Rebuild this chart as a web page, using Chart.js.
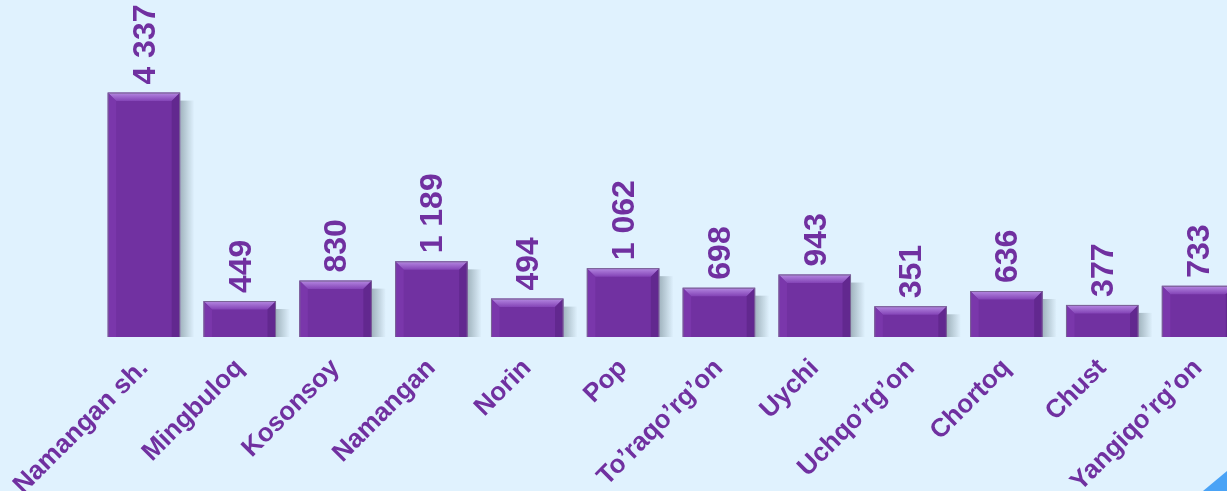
<!DOCTYPE html>
<html>
<head>
<meta charset="utf-8">
<script src="https://cdn.jsdelivr.net/npm/chart.js@4.4.1/dist/chart.umd.min.js"></script>
<style>
  html, body { margin: 0; padding: 0; background: #e0f2fe; overflow: hidden; }
  #wrap { position: relative; width: 1227px; height: 491px; overflow: hidden; }
  #corner { position: absolute; right: 0; bottom: 0; width: 24px; height: 20px;
            background: #4aa3f6; clip-path: polygon(100% 0, 100% 100%, 0 100%); }
</style>
</head>
<body>
<div id="wrap">
  <canvas id="bars" width="1246" height="491"></canvas>
  <div id="corner"></div>
</div>
<script>
// districts and values
const categories = ['Namangan sh.', 'Mingbuloq', 'Kosonsoy', 'Namangan', 'Norin', 'Pop',
  'To’raqo’rg’on', 'Uychi', 'Uchqo’rg’on', 'Chortoq', 'Chust', 'Yangiqo’rg’on'];
const values = [4337, 449, 830, 1189, 494, 1062, 698, 943, 351, 636, 377, 733];

// value axis range (hidden)
const yMin = -222;
const yMax = 5878;

const PURPLE = '#7030a0';
const FONT = "'Liberation Sans', Arial, sans-serif";

function fmt(v) {
  return String(v).replace(/\B(?=(\d{3})+(?!\d))/g, ' ');
}

// soft shadow right of each bar, then bevel edges and value labels on top
const bevelPlugin = {
  id: 'bevel',
  beforeDatasetsDraw(chart) {
    const { ctx, chartArea } = chart;
    ctx.save();
    ctx.beginPath();
    ctx.rect(chartArea.left, chartArea.top, chartArea.width + 30, chartArea.height);
    ctx.clip();
    chart.getDatasetMeta(0).data.forEach(bar => {
      const p = bar.getProps(['x', 'y', 'base', 'width'], true);
      const r = p.x + p.width / 2;
      const g = ctx.createLinearGradient(r, 0, r + 14, 0);
      g.addColorStop(0, 'rgba(110,130,140,0.55)');
      g.addColorStop(1, 'rgba(110,130,140,0)');
      ctx.fillStyle = g;
      ctx.fillRect(r, p.y + 8, 14, p.base - p.y - 8);
    });
    ctx.restore();
  },
  afterDatasetsDraw(chart) {
    const { ctx, chartArea } = chart;
    const b = 8;
    ctx.save();
    ctx.beginPath();
    ctx.rect(chartArea.left, 0, chartArea.width, chartArea.bottom);
    ctx.clip();
    chart.getDatasetMeta(0).data.forEach((bar, i) => {
      const p = bar.getProps(['x', 'y', 'base', 'width'], true);
      const L = p.x - p.width / 2 + 0.5, R = p.x + p.width / 2 - 0.5;
      const T = p.y + 0.5, B = p.base;

      const top = ctx.createLinearGradient(0, T, 0, T + b);
      top.addColorStop(0, '#b386e0');
      top.addColorStop(1, '#8343b6');
      ctx.fillStyle = top;
      ctx.beginPath();
      ctx.moveTo(L, T); ctx.lineTo(R, T); ctx.lineTo(R - b, T + b); ctx.lineTo(L + b, T + b);
      ctx.closePath(); ctx.fill();

      ctx.fillStyle = '#7a37ab';
      ctx.beginPath();
      ctx.moveTo(L, T); ctx.lineTo(L + b, T + b); ctx.lineTo(L + b, B); ctx.lineTo(L, B);
      ctx.closePath(); ctx.fill();

      ctx.fillStyle = '#62288f';
      ctx.beginPath();
      ctx.moveTo(R, T); ctx.lineTo(R - b, T + b); ctx.lineTo(R - b, B); ctx.lineTo(R, B);
      ctx.closePath(); ctx.fill();

      ctx.strokeStyle = '#7a6495';
      ctx.lineWidth = 1;
      ctx.strokeRect(L, T, R - L, B - T + 2);
    });
    ctx.restore();

    // value labels, rotated
    ctx.save();
    ctx.fillStyle = PURPLE;
    ctx.font = 'bold 32px ' + FONT;
    ctx.textAlign = 'left';
    ctx.textBaseline = 'middle';
    chart.getDatasetMeta(0).data.forEach((bar, i) => {
      const p = bar.getProps(['x', 'y'], true);
      ctx.save();
      ctx.translate(p.x + 2, p.y - 8);
      ctx.rotate(-Math.PI / 2);
      ctx.fillText(fmt(values[i]), 0, 0);
      ctx.restore();
    });
    ctx.restore();
  }
};

new Chart(document.getElementById('bars'), {
  type: 'bar',
  data: {
    labels: categories,
    datasets: [{
      data: values,
      base: yMin,
      backgroundColor: '#7131a1',
      borderWidth: 0,
      barPercentage: 0.757,
      categoryPercentage: 1
    }]
  },
  options: {
    responsive: false,
    animation: false,
    devicePixelRatio: 1,
    layout: { padding: { left: 96, right: 0, top: 10, bottom: 0 } },
    plugins: { legend: { display: false }, tooltip: { enabled: false } },
    scales: {
      x: {
        grid: { display: false, drawTicks: false },
        border: { display: false },
        ticks: {
          autoSkip: false,
          minRotation: 45,
          maxRotation: 45,
          padding: 16,
          color: PURPLE,
          font: { family: FONT, size: 26, weight: 'bold' }
        },
        afterFit(axis) {
          axis.height = 154;
          axis.paddingLeft = 0;
          axis.paddingRight = 0;
        }
      },
      y: {
        display: false,
        min: yMin,
        max: yMax,
        bounds: 'data'
      }
    }
  },
  plugins: [bevelPlugin]
});
</script>
</body>
</html>
